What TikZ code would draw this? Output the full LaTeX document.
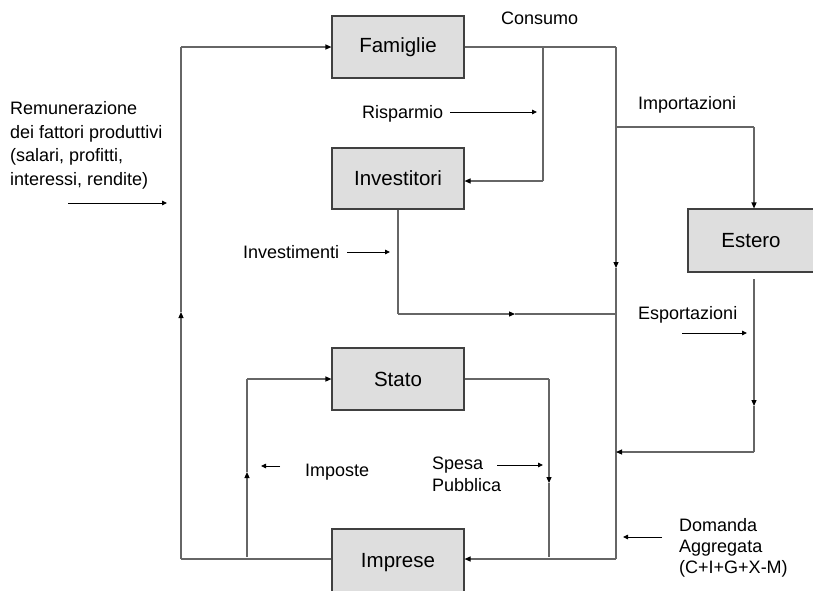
\documentclass[tikz,border=0pt]{standalone}
\usepackage{fontspec}
\setmainfont{Liberation Sans}
\usetikzlibrary{arrows.meta}
\tikzset{
  box/.style={draw=black!75, line width=1.1pt, fill=black!13, minimum width=132pt, inner sep=0pt, font=\fontsize{20.5}{24}\selectfont},
  flow/.style={draw=black!60, line width=1.1pt},
  tip/.style={-{Triangle[length=6pt,width=5pt,color=black]}},
  lbl/.style={anchor=base west, inner sep=0pt, font=\fontsize{18}{22}\selectfont},
  lblm/.style={anchor=north west, inner sep=0pt, align=left},
  small/.style={draw=black, line width=0.9pt, -{Triangle[length=5pt,width=4.5pt]}}
}
\begin{document}
\begin{tikzpicture}[x=1pt,y=-1pt]
\useasboundingbox (0,0) rectangle (813,590);
% boxes
\node[box, minimum height=62pt] (fam) at (398,47) {Famiglie};
\node[box, minimum height=61pt] (inv) at (398,178.5) {Investitori};
\node[box, minimum height=62pt] (stato) at (398,379) {Stato};
\node[box, minimum height=68pt] (imp) at (398,563) {\raisebox{3pt}{Imprese}};
\node[box, minimum width=126pt, minimum height=63pt] (est) at (751,240.5) {Estero};
% coordinates
\coordinate (cTR) at (616,47);
\coordinate (mR) at (616,268);
\coordinate (cBR) at (616,559);
\coordinate (cBL) at (181,559);
\coordinate (mL) at (181,312);
\coordinate (cTL) at (181,47);
\coordinate (cRt) at (543,47);
\coordinate (cRb) at (543,181);
\coordinate (cIb) at (398,314);
\coordinate (mI) at (515,314);
\coordinate (cIr) at (616,314);
\coordinate (cM1) at (616,127);
\coordinate (cM2) at (754,127);
\coordinate (cE1) at (754,279);
\coordinate (mE) at (754,406);
\coordinate (cE2) at (754,452);
\coordinate (cE3) at (616,452);
\coordinate (cS1) at (247,557);
\coordinate (mS1) at (247,472);
\coordinate (cS2) at (247,379);
\coordinate (cS3) at (549,379);
\coordinate (mS2) at (549,483);
\coordinate (cS4) at (549,557);
% main loop
\draw[flow] (fam.east) -- (cTR);
\draw[flow,tip] (cTR) -- (mR);
\draw[flow] (mR) -- (cBR);
\draw[flow,tip] (cBR) -- (imp.east |- cBR);
\draw[flow] (imp.west |- cBL) -- (cBL);
\draw[flow,tip] (cBL) -- (mL);
\draw[flow] (mL) -- (cTL);
\draw[flow,tip] (cTL) -- (fam.west);
% risparmio
\draw[flow] (cRt) -- (cRb);
\draw[flow,tip] (cRb) -- (inv.east |- cRb);
% investimenti
\draw[flow] (inv.south) -- (cIb);
\draw[flow,tip] (cIb) -- (mI);
\draw[flow] (mI) -- (cIr);
% importazioni
\draw[flow] (cM1) -- (cM2);
\draw[flow,tip] (cM2) -- (cM2 |- est.north);
% esportazioni
\draw[flow,tip] (cE1) -- (mE);
\draw[flow] (mE) -- (cE2);
\draw[flow,tip] (cE2) -- (cE3);
% stato
\draw[flow,tip] (cS1) -- (mS1);
\draw[flow] (mS1) -- (cS2);
\draw[flow,tip] (cS2) -- (stato.west);
\draw[flow] (stato.east) -- (cS3);
\draw[flow,tip] (cS3) -- (mS2);
\draw[flow] (mS2) -- (cS4);
% labels
\node[lbl] (tCons) at (501,24.5) {Consumo};
\node[lbl] (tImp) at (638,109.5) {Importazioni};
\node[lbl] (tRisp) at (362,118.5) {Risparmio};
\node[lbl] (tInv) at (243,258.5) {Investimenti};
\node[lbl] (tEsp) at (638,319.5) {Esportazioni};
\node[lbl] (tImpo) at (305,476.5) {Imposte};
\node[lblm, font=\fontsize{18}{23.6}\selectfont] (tRem) at (10,101.5) {Remunerazione\\dei fattori produttivi\\(salari, profitti,\\interessi, rendite)};
\node[lblm, font=\fontsize{18}{22}\selectfont] (tSpesa) at (432,456.5) {Spesa\\Pubblica};
\node[lblm, font=\fontsize{18}{20.7}\selectfont] (tDom) at (679,518.5) {Domanda\\Aggregata\\(C+I+G+X-M)};
% label arrows
\coordinate (aRem1) at (68,203); \coordinate (aRem2) at (167,203);
\coordinate (aRis1) at (450,112); \coordinate (aRis2) at (537,112);
\coordinate (aInv1) at (347,252); \coordinate (aInv2) at (390,252);
\coordinate (aEsp1) at (682,333); \coordinate (aEsp2) at (747,333);
\coordinate (aImp1) at (280,466); \coordinate (aImp2) at (261,466);
\coordinate (aSp1) at (497,465); \coordinate (aSp2) at (543,465);
\coordinate (aDom1) at (662,537); \coordinate (aDom2) at (623,537);
\draw[small] (aRem1) -- (aRem2);
\draw[small] (aRis1) -- (aRis2);
\draw[small] (aInv1) -- (aInv2);
\draw[small] (aEsp1) -- (aEsp2);
\draw[small] (aImp1) -- (aImp2);
\draw[small] (aSp1) -- (aSp2);
\draw[small] (aDom1) -- (aDom2);
\end{tikzpicture}
\end{document}
